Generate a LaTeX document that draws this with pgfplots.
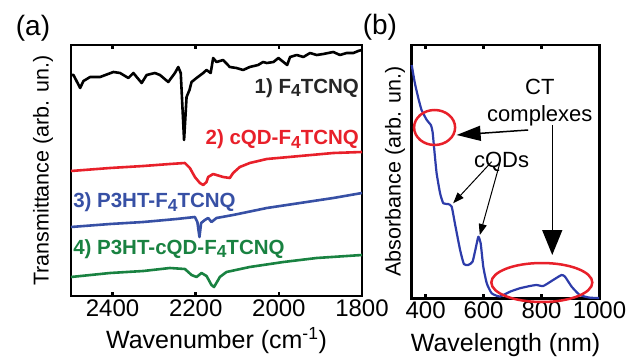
\documentclass[border=0pt]{standalone}
\usepackage{fontspec}
\setmainfont{Liberation Sans}
\usepackage{graphicx}
\usepackage{pgfplots}
\pgfplotsset{compat=1.18}
\usetikzlibrary{arrows.meta}
\definecolor{cred}{RGB}{232,32,42}
\definecolor{cblue}{RGB}{55,80,165}
\definecolor{cgreen}{RGB}{25,130,65}
\definecolor{cnavy}{RGB}{45,60,170}
\newcommand{\four}{\raisebox{-0.3ex}{\scalebox{0.85}{4}}}

\begin{document}
\begin{tikzpicture}
\useasboundingbox (0,0) rectangle (626pt,356pt);
\pgfplotsset{
  common/.style={
    scale only axis, anchor=south west,
    axis line style={line width=2.6pt},
    tick style={black, line width=2.6pt},
    major tick length=4pt,
    ytick=\empty,
    /pgf/number format/assume math mode=true,
    /pgf/number format/1000 sep={},
    tick label style={font=\fontsize{24}{24}\selectfont},
    label style={font=\fontsize{25}{25}\selectfont},
  }
}
% ---------------- panel (a)
\begin{axis}[common, at={(71pt,60pt)}, width=291pt, height=251pt,
  xmin=1800, xmax=2500, x dir=reverse, ymin=0, ymax=251, clip=false,
  xtick={1800,2000,2200,2400},
  xlabel={Wavenumber (cm\textsuperscript{-1})},
  ylabel={Transmittance (arb. un.)},
  xlabel style={at={(axis description cs:0.5,-0.179)}, anchor=center},
  ylabel style={at={(axis description cs:-0.0962,0.5)}, anchor=center, font=\fontsize{21.5}{21.5}\selectfont},
]
\addplot[black, line width=2.6pt, line join=round] table {
2500 221
2494 221
2478 208
2470 215
2454 219
2430 219
2398 224
2382 223
2362 218
2350 223
2330 213
2318 221
2298 223
2286 221
2266 214
2250 223
2242 229
2236 223
2228 156
2222 199
2215 206
2210 214
2198 218
2182 223
2174 226
2164 223
2158 238
2150 234
2134 236
2118 229
2102 228
2086 226
2070 229
2050 231
2038 234
2029 233
2013 234
2001 238
1989 234
1980 231
1973 239
1957 241
1941 239
1925 243
1909 241
1893 242
1869 244
1853 241
1837 243
1821 243
1809 245
1801 246
};
\addplot[cred, line width=2.6pt, line join=round] table {
2500 125
2406 128
2326 130
2262 132
2226 133
2214 128
2202 119
2190 113
2182 111
2174 114
2170 119
2158 122
2134 119
2118 118
2110 123
2094 129
2070 133
2029 137
1949 140
1869 143
1800 144
};
\addplot[cblue, line width=2.6pt, line join=round] table {
2500 69
2406 72
2326 74
2246 77
2202 79
2196 74
2191 59
2187 73
2178 76
2170 78
2162 74
2150 78
2110 81
2029 88
1949 93
1869 98
1800 103
};
\addplot[cgreen, line width=2.6pt, line join=round] table {
2500 19
2406 23
2326 25
2262 28
2226 27
2210 21
2198 19
2186 23
2174 20
2162 11
2156 9
2146 16
2142 19
2126 24
2070 29
1989 34
1909 38
1800 41
};
\node[anchor=base east, inner sep=0pt, font=\fontsize{20.5}{20.5}\selectfont\bfseries, text=black!85] at (axis cs:1807,202.7) {1) F\four TCNQ};
\node[anchor=base east, inner sep=0pt, font=\fontsize{20.5}{20.5}\selectfont\bfseries, text=cred] at (axis cs:1807,151) {2) cQD-F\four TCNQ};
\node[anchor=base west, inner sep=0pt, font=\fontsize{20.5}{20.5}\selectfont\bfseries, text=cblue] at (axis cs:2495,88) {3) P3HT-F\four TCNQ};
\node[anchor=base west, inner sep=0pt, font=\fontsize{20.5}{20.5}\selectfont\bfseries, text=cgreen] at (axis cs:2495,41.5) {4) P3HT-cQD-F\four TCNQ};
\node[font=\fontsize{28}{28}\selectfont] at (axis description cs:-0.1306,1.0677) {(a)};
\end{axis}
% ---------------- panel (b)
\begin{axis}[common, at={(411.7pt,57.7pt)}, width=187.8pt, height=253.3pt,
  xmin=352, xmax=1000, ymin=0, ymax=253.3, clip=false,
  xtick={400,600,800,1000},
  xlabel={Wavelength (nm)},
  ylabel={Absorbance (arb. un.)},
  xlabel style={at={(axis description cs:0.5,-0.184)}, anchor=center},
  ylabel style={at={(axis description cs:-0.089,0.5)}, anchor=center, font=\fontsize{21.5}{21.5}\selectfont},
]
\addplot[cnavy, line width=2.2pt, line join=round, smooth, tension=0.3] table {
352 233.3
363 215
375 200
386 188.3
404 178.3
418 173.3
424 166.6
430 148.3
438 125
450 105
461 95
478 94.3
490 91.6
501 75
519 48.3
532 34.3
547 33.3
562 36.6
574 51.6
582 61.6
590 55
599 31.6
611 15
628 5
656 1.8
691 6.6
725 10
760 12.3
783 13.3
806 12.3
840 18.3
869 23.3
881 21.6
904 11.6
932 3.3
967 0.6
999 0.4
};
\draw[cred, line width=2.5pt] (axis cs:431,170.8) ellipse [x radius=20.5pt, y radius=17.5pt];
\draw[cred, line width=2.5pt] (axis cs:801,15.8) ellipse [x radius=50.5pt, y radius=19.5pt];
\node[anchor=base, inner sep=0pt, font=\fontsize{22}{22}\selectfont] at (axis cs:794,203.3) {CT};
\node[anchor=base, inner sep=0pt, font=\fontsize{22}{22}\selectfont] at (axis cs:794,176.6) {complexes};
\node[anchor=base, inner sep=0pt, font=\fontsize{22}{22}\selectfont] at (axis cs:662,130.3) {cQDs};
\draw[line width=1.5pt, -{Triangle[length=24pt,width=15pt]}] (axis cs:754,168.3) -- (axis cs:507,163.3);
\draw[line width=1.5pt, -{Triangle[length=25pt,width=20pt]}] (axis cs:837,173.3) -- (axis cs:837,43.3);
\draw[line width=1pt, -{Triangle[length=11pt,width=8pt]}] (axis cs:628,136.6) -- (axis cs:495,95);
\draw[line width=1pt, -{Triangle[length=11pt,width=8pt]}] (axis cs:656,135) -- (axis cs:587,63.3);
\node[font=\fontsize{28}{28}\selectfont] at (axis description cs:-0.169,1.071) {(b)};
\end{axis}
\end{tikzpicture}
\end{document}
